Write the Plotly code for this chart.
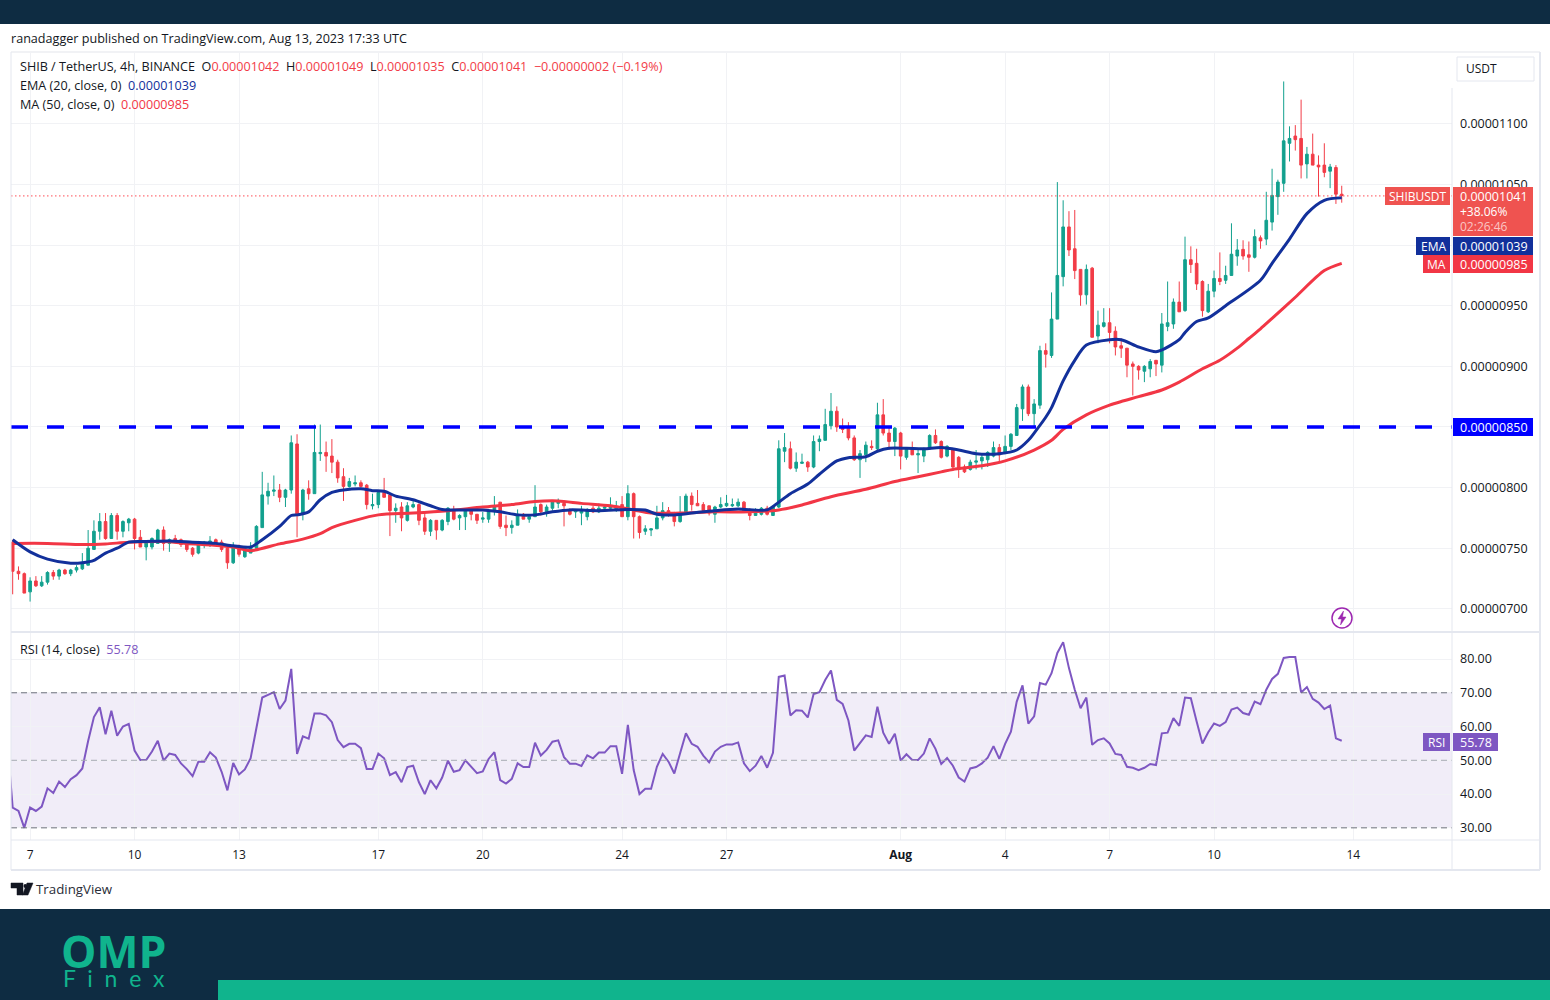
import datetime as dt
import numpy as np
import plotly.graph_objects as go

# ---------- data (prices in units of 0.00000001) ----------
open_ = [755,731,729,714,723,719,722,730,727,732,
 729,732,733,736,749,764,772,758,777,764,
 771,774,759,751,751,754,765,754,758,757,
 754,750,746,753,753,757,755,750,738,750,
 743,746,750,767,793,797,798,792,798,836,
 779,799,795,828,829,826,821,809,801,803,
 804,802,785,786,796,794,781,784,773,784,
 786,775,764,773,765,772,782,775,776,782,
 778,774,774,781,788,769,767,769,778,774,
 776,786,780,783,787,787,782,780,779,776,
 783,780,783,783,782,786,776,795,776,764,
 765,766,775,781,779,772,779,793,787,786,
 785,778,784,785,785,785,788,782,777,778,
 783,777,784,830,832,816,820,821,817,838,
 839,851,863,850,849,841,823,827,834,832,
 860,845,838,845,825,832,827,826,832,843,
 838,826,831,825,817,815,821,822,823,826,
 833,828,834,843,865,883,861,868,913,909,
 939,974,1015,997,980,959,981,925,933,936,
 929,917,915,902,900,896,898,905,901,933,
 935,953,946,988,985,970,945,962,972.5,971,
 975,991,996.5,992,990,1006,1005,1019,1040,1051,
 1084,1090,1088,1067,1075,1066,1066,1061,1064,1042]
high = [757,735,730,726,727,727,731,732,733,733,
 733,736,746,765,773,779,779,779,779,773,
 775,775,765,756,759,766,768,758,761,758,
 755,751,756,756,760,758,757,751,755,753,
 751,755,769,813,804,810,803,799,843,844,
 799,806,852,852,838,840,823,816,808,810,
 806,803,795,797,808,795,787,788,788,789,
 787,779,774,773,774,784,785,778,783,783,
 778,780,782,793,788,777,773,782,779,777,
 802,787,786,789,791,789,783,782,785,783,
 785,787,786,792,789,793,802,796,777,769,
 766,785,788,784,780,793,795,796,798,788,
 785,785,792,794,791,791,789,783,783,784,
 785,785,839,845,838,829,828,822,843,843,
 865,878,867,857,854,843,831,838,839,870,
 873,851,850,846,833,838,832,833,844,848,
 839,835,832,826,819,823,831,827,830,838,
 836,843,845,869,885,885,873,917,919,961,
 1052,1037,1028,1029,980,984,982,946,948,948,
 933,923,915,904,901,901,906,905,944,970,
 956,970,1007,999,997,971,968,979,994,983,
 1018,1005,1004,1003,1013,1008,1044,1063,1054,1135,
 1098,1099,1120,1081,1092,1074,1084,1067,1066,1049]
low = [712,724,713,706,718,718,720,724,724,728,
 727,730,732,736,749,757,757,758,757,759,
 764,749,751,740,749,754,748,747,754,751,
 747,743,745,750,751,753,747,733,737,743,
 742,746,750,767,786,793,788,784,795,759,
 773,790,795,822,813,812,804,789,800,801,
 800,782,782,783,792,760,771,764,772,783,
 769,761,760,757,764,769,773,765,765,773,
 770,771,771,777,766,760,762,769,774,771,
 776,777,776,781,783,768,777,775,769,773,
 779,779,781,781,780,776,773,758,758,761,
 760,766,773,776,768,771,778,781,785,779,
 777,771,783,784,784,784,779,773,777,777,
 777,777,783,821,815,813,820,813,816,830,
 839,848,846,845,839,822,808,821,831,831,
 843,831,826,815,823,827,812,821,832,836,
 824,825,816,808,812,814,815,815,817,825,
 821,828,831,843,855,859,850,865,899,907,
 939,966,991,972,950,951,924,919,932,919,
 909,907,891,876,889,887,891,892,895,929,
 931,945,945,977,963,941,944,957,967,968,
 975,983,988,978,989,997,1000,1012,1025,1044,
 1069,1078,1055,1055,1066,1040,1056,1047,1034,1035]
close = [731,729,713,723,719,722,730,727,732,729,
 732,734,737,750,764,772,758,777,764,772,
 774,758,751,755,758,765,754,757,756,753,
 749,745,755,755,756,754,749,738,751,745,
 750,751,768,794,797,798,792,798,837,777,
 798,795,829,829,826,821,808,801,805,804,
 801,786,786,796,792,781,783,775,785,786,
 773,764,773,765,773,783,774,777,782,778,
 773,775,781,785,768,767,769,778,774,776,
 784,780,784,788,788,785,778,781,782,782,
 780,783,784,785,784,776,795,776,763,766,
 766,775,781,777,772,779,793,786,785,781,
 779,784,786,787,786,788,780,777,780,783,
 778,784,832,833,816,821,821,817,838,840,
 852,863,850,848,841,823,828,835,833,860,
 845,838,849,826,832,827,828,831,843,837,
 825,834,817,815,813,821,822,825,829,833,
 827,834,844,866,883,861,869,913,910,939,
 975,1015,996,979,959,980,924,934,936,928,
 916,915,901,900,897,900,904,902,935,936,
 953,945,988,984,968,946,962,972.5,970,975,
 992.5,996,991,990,1007,1003.5,1020.5,1041,1052,1086,
 1088,1087,1066,1075,1066,1064.5,1060,1064.5,1042,1041]

ema_idx = [0,3,6,10,12,14,16,18,20,23,27,31,35,38,41,43,46,48,49,51,53,55,57,60,62,64,66,69,72,74,
 78,81,84,87,90,93,96,101,106,109,111,114,117,121,125,130,132,134,137,139,142,144,147,149,151,154,157,160,163,166,
 170,173,175,176,178,179,181,183,185,189,191,194,197,198,201,202,204,206,209,215,217,220,223,226,229]
ema_val = [757,747,741,737.6,738,740,746,750,755,755.5,756,755,754,752,751,757,768,777,777.5,780,790,796,798,799,797.5,797,793,790,785,782,
 781.6,781.5,780,777.5,777.5,780,781.6,781,782,781.5,778,777.5,779,781,782.4,781.6,788,795,803,811,822,824.7,825.5,830,832.4,832.4,832,833,831,828,
 828,831,839,845,858,866,888,905,917.6,922,922,916,912,913.5,922,928,937,940,950,971,985,1005,1026,1037,1039]

ma_idx = [0,6,12,16,20,26,30,38,41,46,50,53,55,59,63,69,75,81,86,90,94,98,103,107,110,115,121,127,132,136,
 141,147,152,156,160,162,167,171,176,179,181,185,189,191,194,198,201,205,208,211,213,215,217,221,226,229]
ma_val = [754,754,753,753.5,755,755.5,754,751,748,753.6,757.5,762,767,773,777.5,779,781,784,786,788.5,789,787,785,781.6,779,779,780,780,781.6,785.7,
 792.5,798.6,805,809,813,815,818,822,831,839,848,860,868,871,875,880.5,887,898,905,915,923,931,939.6,957,979,985]

# RSI: the first value belongs to the candle just left of the visible window
rsi_first = 57.0
rsi_val = [36.0,35.0,30.0,36.0,35.0,36.3,41.7,40.3,43.7,42.1,44.4,45.6,47.6,55.7,62.8,65.7,57.7,64.7,57.3,60.0,
 60.8,52.9,50.1,50.1,52.6,55.8,49.9,52.0,51.6,49.1,47.4,45.3,49.6,49.6,52.4,50.8,46.6,41.1,49.2,45.8,
 47.3,50.6,59.5,68.6,69.4,70.2,65.2,67.7,77.1,51.9,57.1,56.4,63.9,63.9,63.3,61.3,56.0,53.9,54.9,54.9,
 53.6,47.4,47.4,52.0,50.6,45.6,46.5,43.5,48.0,48.4,43.5,40.0,44.1,41.7,44.9,49.9,46.6,47.1,50.0,48.1,
 46.2,46.7,50.4,52.4,44.1,43.1,44.5,49.1,48.0,48.0,55.2,51.4,53.1,55.5,55.9,50.9,49.0,49.0,48.3,51.5,
 50.6,52.3,52.3,54.2,54.2,46.0,60.5,47.1,40.0,41.6,41.6,48.1,51.9,49.6,46.1,52.1,58.0,54.9,54.0,51.4,
 49.4,52.6,54.0,54.7,54.7,55.3,49.1,46.8,48.4,51.3,47.8,52.2,74.7,75.1,63.3,64.8,64.7,62.7,69.6,70.2,
 73.8,76.6,67.9,66.7,61.8,52.9,55.0,57.4,56.9,65.9,58.2,54.9,57.9,49.9,51.8,50.1,50.1,52.0,56.5,53.4,
 48.9,50.7,48.4,44.9,43.7,47.6,48.0,49.1,50.8,54.2,50.4,54.9,58.5,67.4,72.2,60.9,63.0,72.9,72.4,75.8,
 81.8,85.0,77.3,70.9,65.4,68.6,54.6,56.0,56.5,55.0,51.9,51.6,48.1,47.8,47.1,47.8,48.9,48.6,58.0,58.2,
 62.5,60.2,68.6,68.4,61.5,55.0,58.3,60.9,60.2,61.3,65.0,65.6,64.0,63.5,67.4,66.6,70.9,74.1,75.6,80.3,
 80.6,80.6,70.1,71.7,68.2,67.1,65.2,66.2,56.5,55.78]

tick_dates = ["2023-07-07","2023-07-10","2023-07-13","2023-07-17","2023-07-20","2023-07-24","2023-07-27",
              "2023-08-01","2023-08-04","2023-08-07","2023-08-10","2023-08-14"]
tick_text = ["7","10","13","17","20","24","27","<b>Aug</b>","4","7","10","14"]
price_ticks = [700,750,800,850,900,950,1000,1050,1100]
rsi_ticks = [30,40,50,60,70,80]
level = 850
last_close = 1040.6

UNIT = 1e-8
start = dt.datetime(2023,7,6,12)
def when(i):
    return start + dt.timedelta(hours=4*i)
dates = [when(i) for i in range(len(close))]
P = lambda a: (np.array(a, dtype=float)*UNIT).tolist()

# ---------- colours ----------
UP, DOWN = "#12a08e", "#f23c47"
EMA_C, MA_C, RSI_C = "#12309b", "#f23645", "#7e57c2"
GRID, FRAME = "#f1f2f5", "#e4e7ef"
DARK, GREEN = "#0e2c42", "#10b48d"
TXT = "#131722"
FONT = "Open Sans"
SIZE = 12.6

# ---------- helpers in page pixels ----------
W, H = 1550, 1000
def px(x): return x/W
def py(y): return 1-y/H
shapes, notes = [], []
def rect(x0,y0,x1,y1,color,line=None,layer="above"):
    shapes.append(dict(type="rect",xref="paper",yref="paper",x0=px(x0),x1=px(x1),y0=py(y1),y1=py(y0),
                       fillcolor=color,line=dict(color=line or color,width=1 if line else 0),layer=layer))
def hline(x0,x1,y,color=FRAME,w=1):
    shapes.append(dict(type="line",xref="paper",yref="paper",x0=px(x0),x1=px(x1),y0=py(y),y1=py(y),
                       line=dict(color=color,width=w),layer="above"))
def vline(x,y0,y1,color=FRAME,w=1):
    shapes.append(dict(type="line",xref="paper",yref="paper",x0=px(x),x1=px(x),y0=py(y0),y1=py(y1),
                       line=dict(color=color,width=w),layer="above"))
def text(x,y,s,size=SIZE,color=TXT,anchor="left",family=FONT):
    # annotations carry about 2px of padding, so pull left-anchored text back
    xx = x-2 if anchor=="left" else x
    notes.append(dict(xref="paper",yref="paper",x=px(xx),y=py(y),text=s,showarrow=False,xanchor=anchor,
                      yanchor="middle",font=dict(size=size,color=color,family=family),align="left"))
def path(points,color,fill=None,w=1):
    d = "M"+" L".join(f"{px(a):.5f},{py(b):.5f}" for a,b in points)+(" Z" if fill else "")
    shapes.append(dict(type="path",xref="paper",yref="paper",path=d,fillcolor=fill or "rgba(0,0,0,0)",
                       line=dict(color=color,width=w),layer="above"))

# ---------- figure ----------
fig = go.Figure()
fig.add_trace(go.Candlestick(x=dates,open=P(open_),high=P(high),low=P(low),close=P(close),
    increasing=dict(line=dict(color=UP,width=1),fillcolor=UP),
    decreasing=dict(line=dict(color=DOWN,width=1),fillcolor=DOWN),
    whiskerwidth=0,xaxis="x",yaxis="y",hoverinfo="skip",showlegend=False))
fig.add_trace(go.Scatter(x=[when(i) for i in ma_idx],y=P(ma_val),mode="lines",
    line=dict(color=MA_C,width=3,shape="spline",smoothing=0.8),xaxis="x",yaxis="y",hoverinfo="skip",showlegend=False))
fig.add_trace(go.Scatter(x=[when(i) for i in ema_idx],y=P(ema_val),mode="lines",
    line=dict(color=EMA_C,width=3,shape="spline",smoothing=0.8),xaxis="x",yaxis="y",hoverinfo="skip",showlegend=False))
fig.add_trace(go.Scatter(x=[when(-1)]+dates,y=[rsi_first]+rsi_val,mode="lines",line=dict(color=RSI_C,width=2),
    xaxis="x2",yaxis="y2",hoverinfo="skip",showlegend=False))

x_range = [when(-0.29), when(248.0)]
y_range = [680.9*UNIT, 1159.3*UNIT]
r_range = [26.4, 88.0]

# level and last-price lines on the price scale
shapes.append(dict(type="line",xref="x",yref="y",x0=x_range[0],x1=x_range[1],y0=level*UNIT,y1=level*UNIT,
                   line=dict(color="#0000ff",width=3.5,dash="17px,19px"),layer="above"))
shapes.append(dict(type="line",xref="x",yref="y",x0=x_range[0],x1=x_range[1],y0=last_close*UNIT,y1=last_close*UNIT,
                   line=dict(color="#ff4d55",width=1,dash="1.5px,2.5px"),layer="above"))
# RSI band and levels
shapes.append(dict(type="rect",xref="x2",yref="y2",x0=x_range[0],x1=x_range[1],y0=30,y1=70,
                   fillcolor="rgba(126,87,194,0.11)",line=dict(width=0),layer="below"))
for lv,col in ((70,"#6f727d"),(50,"#a8abb5"),(30,"#6f727d")):
    shapes.append(dict(type="line",xref="x2",yref="y2",x0=x_range[0],x1=x_range[1],y0=lv,y1=lv,
                       line=dict(color=col,width=1,dash="6px,4px"),layer="above"))

# page furniture
rect(0,0,1550,24,DARK)
rect(0,909,1550,1000,DARK)
rect(218,980,1550,1000,GREEN)
hline(11,1540,52,GRID,2)
hline(11,1540,632,FRAME,2)
hline(11,1540,840,FRAME,1)
hline(11,1540,870,FRAME,2)
vline(11,52,870,FRAME,1)
vline(1540,52,870,FRAME,2)
vline(1452,88,870,FRAME,1)
rect(1457,57,1534,81,"#ffffff",line=FRAME)
text(1466,69,"USDT",12)

# right-hand price labels
rect(1385,187,1450,205,"#ef5350")
text(1417.5,196.5,"SHIBUSDT",12,"#ffffff","center")
rect(1453,187,1533,236,"#ef5350")
text(1460,196.5,"0.00001041",12.5,"#ffffff")
text(1460,212,"+38.06%",12,"#ffffff")
text(1460,227,"02:26:46",12,"#fbc6c5")
rect(1416,237,1450,255,EMA_C)
text(1433,246,"EMA",12,"#ffffff","center")
rect(1453,237,1533,255,EMA_C)
text(1460,246,"0.00001039",12.5,"#ffffff")
rect(1423,255,1450,273,MA_C)
text(1436.5,264,"MA",12,"#ffffff","center")
rect(1453,255,1533,273,MA_C)
text(1460,264,"0.00000985",12.5,"#ffffff")
rect(1453,418,1533,436,"#0000ff")
text(1460,427,"0.00000850",12.5,"#ffffff")
rect(1423,733,1450,751,RSI_C)
text(1436.5,742,"RSI",12,"#ffffff","center")
rect(1453,733,1498,751,RSI_C)
text(1460,742,"55.78",12.5,"#ffffff")

# header texts
R = f"color:{DOWN}"
text(11,38,"ranadagger published on TradingView.com, Aug 13, 2023 17:33 UTC")
text(20,67,f"SHIB / TetherUS, 4h, BINANCE  O<span style='{R}'>0.00001042</span>  H<span style='{R}'>0.00001049</span>"
           f"  L<span style='{R}'>0.00001035</span>  C<span style='{R}'>0.00001041</span>"
           f"  <span style='{R}'>−0.00000002 (−0.19%)</span>")
text(20,86,f"EMA (20, close, 0)  <span style='color:{EMA_C}'>0.00001039</span>")
text(20,105,f"MA (50, close, 0)  <span style='color:{MA_C}'>0.00000985</span>")
text(20,649,f"RSI (14, close)  <span style='color:{RSI_C}'>55.78</span>")

# alert icon
shapes.append(dict(type="circle",xref="paper",yref="paper",x0=px(1332),x1=px(1352),y0=py(628),y1=py(608),
                   line=dict(color="#9c27b0",width=1.5),fillcolor="rgba(0,0,0,0)",layer="above"))
path([(1343.5,611),(1338,619),(1341.5,619),(1340.5,625),(1346,617),(1342.5,617)],"#9c27b0","#9c27b0",0.5)

# TradingView mark
path([(11,883),(23,883),(23,895),(17,895),(17,888),(11,888)],"#131722","#131722",0.5)
path([(27,883),(33,883),(28,895),(22.5,895)],"#131722","#131722",0.5)
shapes.append(dict(type="circle",xref="paper",yref="paper",x0=px(23.5),x1=px(27),y0=py(888),y1=py(884),
                   fillcolor="#131722",line=dict(width=0),layer="above"))
text(36,889,"TradingView",13.3,"#2a2e39")

# footer brand
text(113,950,"<b>OMP</b>",44.5,GREEN,"center","Open Sans")
text(113.5,978,"F  i  n  e  x",23,GREEN,"center","Lato")

fig.update_layout(
    width=W,height=H,autosize=False,margin=dict(l=0,r=0,t=0,b=0),
    paper_bgcolor="#ffffff",plot_bgcolor="rgba(0,0,0,0)",
    font=dict(family=FONT,size=12,color=TXT),showlegend=False,boxgap=0.35,
    hovermode=False,dragmode=False,shapes=shapes,annotations=notes,
    xaxis=dict(domain=[px(11),px(1452)],range=x_range,type="date",anchor="y",rangeslider=dict(visible=False),
               tickvals=tick_dates,ticktext=[""]*len(tick_dates),showgrid=True,gridcolor=GRID,gridwidth=1,
               zeroline=False,showline=False,ticks=""),
    yaxis=dict(domain=[py(632),py(52)],range=y_range,side="right",anchor="x",tickvals=P(price_ticks),
               tickformat=".8f",showgrid=True,gridcolor=GRID,gridwidth=1,zeroline=False,showline=False,
               ticks="",ticklabelstandoff=7,tickfont=dict(size=12.5,color=TXT)),
    xaxis2=dict(domain=[px(11),px(1452)],range=x_range,type="date",anchor="y2",matches="x",
                tickvals=tick_dates,ticktext=tick_text,showgrid=True,gridcolor=GRID,gridwidth=1,
                zeroline=False,showline=False,ticks="",ticklabelstandoff=6,tickfont=dict(size=12,color=TXT)),
    yaxis2=dict(domain=[py(840),py(632)],range=r_range,side="right",anchor="x2",tickvals=rsi_ticks,
                tickformat=".2f",showgrid=True,gridcolor=GRID,gridwidth=1,zeroline=False,showline=False,
                ticks="",ticklabelstandoff=7,tickfont=dict(size=12.5,color=TXT)),
)
for name,a in (("open",open_),("high",high),("low",low),("close",close),("rsi",rsi_val)):
    assert len(a)==230, (name,len(a))
assert len(ema_idx)==len(ema_val) and len(ma_idx)==len(ma_val), (len(ema_idx),len(ema_val),len(ma_idx),len(ma_val))

fig.write_html("out.html",config=dict(displayModeBar=False),
               post_script="document.body.style.margin='0';document.documentElement.style.overflow='hidden';")
